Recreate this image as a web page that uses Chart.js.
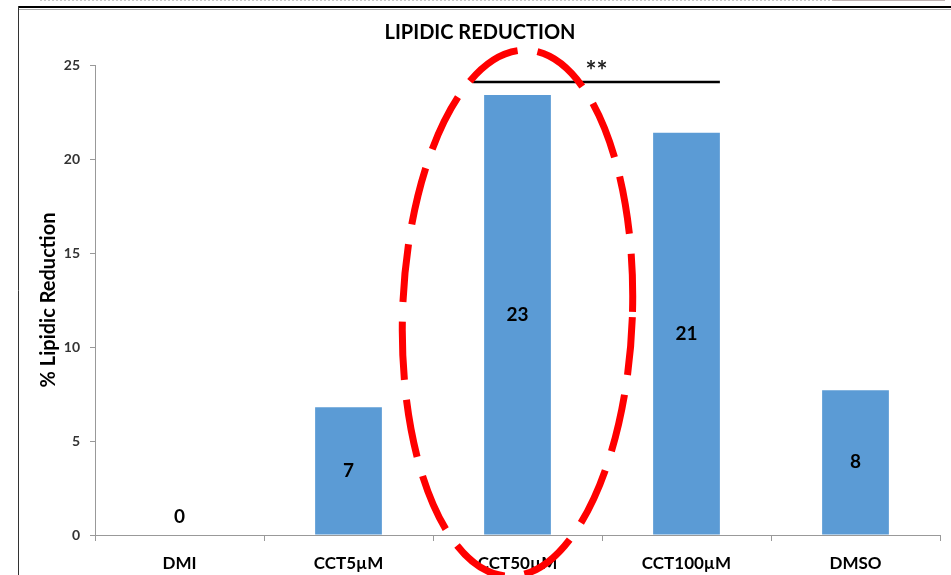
<!DOCTYPE html>
<html>
<head>
<meta charset="utf-8">
<title>Lipidic Reduction</title>
<script src="https://cdn.jsdelivr.net/npm/chart.js@4.4.1/dist/chart.umd.min.js"></script>
<style>
  html, body { margin: 0; padding: 0; background: #fff; }
  #wrap { width: 951px; height: 575px; position: relative; }
</style>
</head>
<body>
<div id="wrap"><canvas id="lipidChart"></canvas></div>
<script>
// data
const groups = ["DMI", "CCT5µM", "CCT50µM", "CCT100µM", "DMSO"];
const reduction = [0, 6.8, 23.4, 21.4, 7.7];
const yTicks = [0, 5, 10, 15, 20, 25];

// significance bar between CCT50 and CCT100
const sigFrom = 2;
const sigTo = 3;
const sigLevel = 24.1;
const sigText = "**";

const FONT = "Lato, 'Open Sans', sans-serif";

// frame lines around the figure (the screenshot border)
const framePlugin = {
  id: "frame",
  beforeDraw(chart) {
    const c = chart.ctx;
    c.save();
    c.fillStyle = "#fff";
    c.fillRect(0, 0, chart.width, chart.height);
    c.strokeStyle = "#c8c8c8";
    c.lineWidth = 1;
    c.setLineDash([2, 2]);
    c.beginPath(); c.moveTo(40, 0.5); c.lineTo(830, 0.5); c.stroke();
    c.setLineDash([]);
    c.strokeStyle = "#bfb3b3";
    c.beginPath(); c.moveTo(832, 0.5); c.lineTo(945, 0.5); c.stroke();
    c.strokeStyle = "#000";
    c.lineWidth = 2;
    c.beginPath(); c.moveTo(18, 7); c.lineTo(chart.width, 7); c.stroke();
    c.strokeStyle = "#aaa";
    c.lineWidth = 1;
    c.beginPath(); c.moveTo(19, 9.5); c.lineTo(chart.width, 9.5); c.stroke();
    c.strokeStyle = "#333";
    c.beginPath(); c.moveTo(18.5, 6); c.lineTo(18.5, chart.height); c.stroke();
    c.restore();
  }
};

// value labels in the middle of each bar
const labelPlugin = {
  id: "barLabels",
  afterDatasetsDraw(chart) {
    const c = chart.ctx;
    const meta = chart.getDatasetMeta(0);
    c.save();
    c.font = "bold 19px " + FONT;
    c.fillStyle = "#000";
    c.textAlign = "center";
    c.textBaseline = "middle";
    meta.data.forEach((bar, i) => {
      const h = bar.base - bar.y;
      const y = h < 30 ? bar.base - 18 : bar.y + h / 2;
      c.fillText(String(Math.round(reduction[i])), bar.x, y);
    });
    c.restore();
  }
};

// significance line + red dashed ellipse
const notePlugin = {
  id: "notes",
  afterDatasetsDraw(chart) {
    const c = chart.ctx;
    const xs = chart.scales.x;
    const ys = chart.scales.y;
    const meta = chart.getDatasetMeta(0);
    const a = meta.data[sigFrom];
    const b = meta.data[sigTo];
    const x1 = a.x - a.width / 2 - 11;
    const x2 = b.x + b.width / 2;
    const yLine = ys.getPixelForValue(sigLevel);
    c.save();
    c.strokeStyle = "#000";
    c.lineWidth = 2.5;
    c.beginPath(); c.moveTo(x1, yLine); c.lineTo(x2, yLine); c.stroke();
    c.font = "bold 26px " + FONT;
    c.fillStyle = "#222";
    c.textAlign = "center";
    c.textBaseline = "middle";
    c.fillText(sigText, (x1 + x2) / 2, yLine - 10);

    const cx = xs.getPixelForValue(sigFrom);
    const cy = ys.getPixelForValue(11.8);
    const catW = xs.getPixelForValue(1) - xs.getPixelForValue(0);
    const rx = catW * 0.68;
    const ry = ys.getPixelForValue(0) - ys.getPixelForValue(14);
    c.strokeStyle = "#ff0000";
    c.lineWidth = 7;
    c.setLineDash([58, 20]);
    c.beginPath();
    c.ellipse(cx, cy, rx, ry, 0.035, 0, Math.PI * 2);
    c.stroke();
    c.restore();
  }
};

new Chart(document.getElementById("lipidChart"), {
  type: "bar",
  data: {
    labels: groups,
    datasets: [{
      data: reduction,
      backgroundColor: "#5b9bd5",
      borderWidth: 0,
      barPercentage: 0.395,
      categoryPercentage: 1.0
    }]
  },
  options: {
    responsive: true,
    maintainAspectRatio: false,
    animation: false,
    layout: { padding: { left: 20, right: 11, top: 0, bottom: 0 } },
    plugins: {
      legend: { display: false },
      tooltip: { enabled: false },
      title: {
        display: true,
        text: "LIPIDIC REDUCTION",
        color: "#000",
        font: { family: FONT, size: 20, weight: "bold" },
        padding: { top: 21, bottom: 20 }
      }
    },
    scales: {
      x: {
        offset: true,
        grid: { offset: true, drawOnChartArea: false, drawTicks: true, tickLength: 6, color: "#999" },
        border: { color: "#999" },
        ticks: { color: "#000", padding: 12, font: { family: FONT, size: 17, weight: "bold" } },
        afterFit(scale) { scale.height = 40; }
      },
      y: {
        min: 0,
        max: 25,
        afterBuildTicks(scale) { scale.ticks = yTicks.map(v => ({ value: v })); },
        grid: { drawOnChartArea: false, drawTicks: true, tickLength: 5, color: "#999" },
        border: { color: "#999" },
        ticks: { color: "#333", padding: 10, font: { family: FONT, size: 14, weight: "bold" } },
        title: {
          display: true,
          text: "% Lipidic Reduction",
          color: "#000",
          font: { family: FONT, size: 20, weight: "bold" },
          padding: { top: 17, bottom: 0 }
        },
        afterFit(scale) { scale.width = 75; }
      }
    }
  },
  plugins: [framePlugin, labelPlugin, notePlugin]
});
</script>
</body>
</html>
